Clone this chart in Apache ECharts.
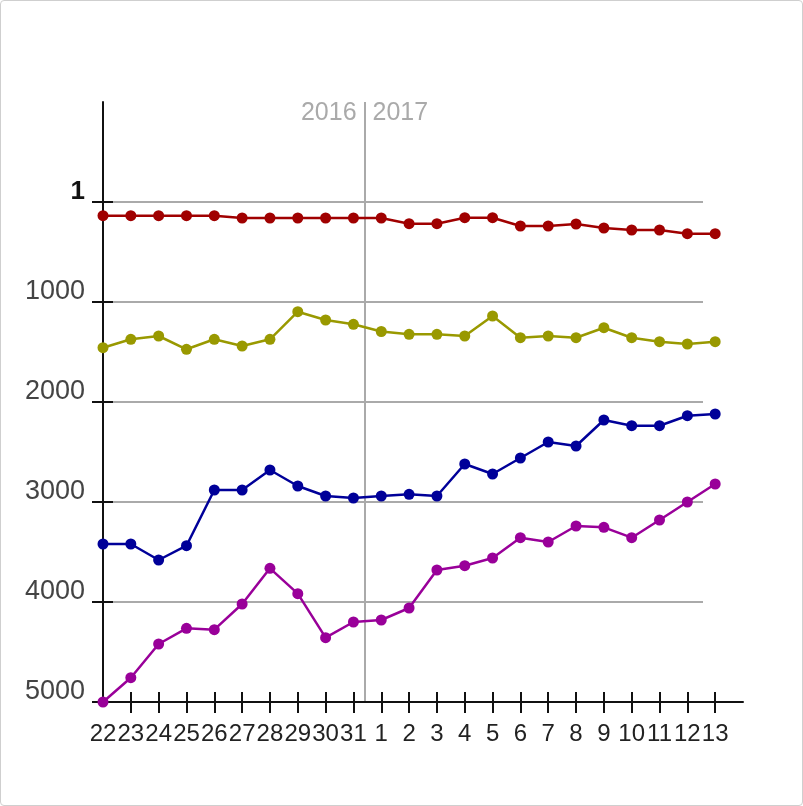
<!DOCTYPE html>
<html>
<head>
<meta charset="utf-8">
<script src="https://cdn.jsdelivr.net/npm/echarts@6/dist/echarts.min.js"></script>
<style>
  html, body { margin: 0; padding: 0; background: #fff; }
  #frame { position: absolute; left: 0; top: 0; width: 803px; height: 806px; box-sizing: border-box; border: 1px solid #cfcfcf; border-radius: 4px; }
  #chart { position: absolute; left: 0; top: 0; width: 803px; height: 806px; }
</style>
</head>
<body>
<div id="frame"></div>
<div id="chart"></div>
<script>
// ---- data ----
const categories = ['22','23','24','25','26','27','28','29','30','31','1','2','3','4','5','6','7','8','9','10','11','12','13'];
const seriesRed     = [137,137,137,137,137,160,160,160,160,160,160,217,217,157,157,240,240,220,260,280,280,317,317];
const seriesOlive   = [1457,1373,1340,1473,1373,1440,1373,1097,1180,1223,1295,1323,1323,1340,1140,1357,1340,1357,1257,1357,1397,1420,1397];
const seriesBlue    = [3420,3420,3580,3437,2880,2880,2680,2840,2940,2960,2940,2923,2940,2620,2720,2560,2400,2440,2180,2237,2237,2137,2120];
const seriesMagenta = [5000,4757,4420,4263,4277,4020,3663,3917,4357,4200,4180,4060,3680,3637,3560,3357,3400,3240,3253,3357,3180,3000,2820];
const yTickValues = [0,1000,2000,3000,4000,5000];
const yTickLabels = ['1','1000','2000','3000','4000','5000'];
const yearLabels = ['2016','2017'];
const yearBreak = 9.4;

const colors = ['#a00000','#999900','#000099','#990099'];
const allSeries = [seriesRed, seriesOlive, seriesBlue, seriesMagenta];

const chart = echarts.init(document.getElementById('chart'), null, {renderer: 'canvas'});
const FONT = 'Liberation Sans, Arial, sans-serif';
const idx = categories.map((c, i) => i);

const series = allSeries.map((vals, s) => ({
  type: 'line',
  xAxisIndex: 0, yAxisIndex: 0,
  data: vals.map((v, i) => [i, v]),
  symbol: 'circle', symbolSize: 11,
  lineStyle: { color: colors[s], width: 2.5 },
  itemStyle: { color: colors[s] },
  clip: false, z: 5, silent: true, animation: false,
  markLine: s === 0 ? {
    silent: true, symbol: 'none', animation: false,
    label: { show: false },
    lineStyle: { color: '#aaaaaa', width: 2, type: 'solid' },
    data: [{ xAxis: yearBreak }], z: 1
  } : undefined
}));

const option = {
  animation: false,
  grid: [
    { left: 103, top: 102, width: 640, height: 600 },
    { left: 103, top: 202, width: 600, height: 500 },
    { left: 103, top: 102, width: 640, height: 600 }
  ],
  xAxis: [
    { gridIndex: 0, type: 'value', min: 0, max: 23, interval: 1, position: 'bottom', z: 4,
      axisLine: { show: true, onZero: false, lineStyle: { color: '#111', width: 2 } },
      axisTick: { show: false },
      axisLabel: { show: true, customValues: idx, formatter: v => categories[v] ?? '', margin: 20,
        fontFamily: FONT, fontSize: 24, color: '#222', verticalAlign: 'top', lineHeight: 24 },
      splitLine: { show: false } },
    { gridIndex: 1, type: 'value', min: 0, max: 1, show: false },
    { gridIndex: 2, type: 'value', min: 0, max: 23, interval: 1, position: 'bottom', offset: -10, z: 4,
      axisLine: { show: false, onZero: false },
      axisTick: { show: true, inside: false, length: 21, lineStyle: { color: '#111', width: 2 }, customValues: idx.slice(1) },
      axisLabel: { show: false }, splitLine: { show: false } }
  ],
  yAxis: [
    { gridIndex: 0, type: 'value', inverse: true, min: -1000, max: 5000, interval: 1000, z: 4,
      axisLine: { show: true, onZero: false, lineStyle: { color: '#111', width: 2 } },
      axisTick: { show: false },
      axisLabel: { show: true, customValues: yTickValues, margin: 18,
        formatter: v => { const k = yTickValues.indexOf(v); if (k < 0) return ''; return k === 0 ? '{b|' + yTickLabels[k] + '}' : yTickLabels[k]; },
        fontFamily: FONT, fontSize: 27, color: '#444', verticalAlign: 'bottom', lineHeight: 20,
        rich: { b: { fontFamily: FONT, fontSize: 26, fontWeight: 'bold', color: '#111', lineHeight: 20 } } },
      splitLine: { show: false } },
    { gridIndex: 1, type: 'value', inverse: true, min: 0, max: 5000, interval: 1000,
      axisLine: { show: false }, axisTick: { show: false }, axisLabel: { show: false },
      splitLine: { show: true, lineStyle: { color: '#aaaaaa', width: 2 } } },
    { gridIndex: 2, type: 'value', inverse: true, min: -1000, max: 5000, interval: 1000, offset: -10, z: 4,
      axisLine: { show: false, onZero: false },
      axisTick: { show: true, inside: false, length: 21, lineStyle: { color: '#111', width: 2 }, customValues: yTickValues },
      axisLabel: { show: false }, splitLine: { show: false } }
  ],
  series: series
};
chart.setOption(option);

const bx = chart.convertToPixel({ xAxisIndex: 0 }, yearBreak);
chart.setOption({
  graphic: [
    { type: 'text', x: bx - 8, y: 113, silent: true, z: 10,
      style: { text: yearLabels[0], fontFamily: FONT, fontSize: 25, fill: '#aaaaaa', align: 'right', verticalAlign: 'middle' } },
    { type: 'text', x: bx + 8, y: 113, silent: true, z: 10,
      style: { text: yearLabels[1], fontFamily: FONT, fontSize: 25, fill: '#aaaaaa', align: 'left', verticalAlign: 'middle' } }
  ]
});
</script>
</body>
</html>
